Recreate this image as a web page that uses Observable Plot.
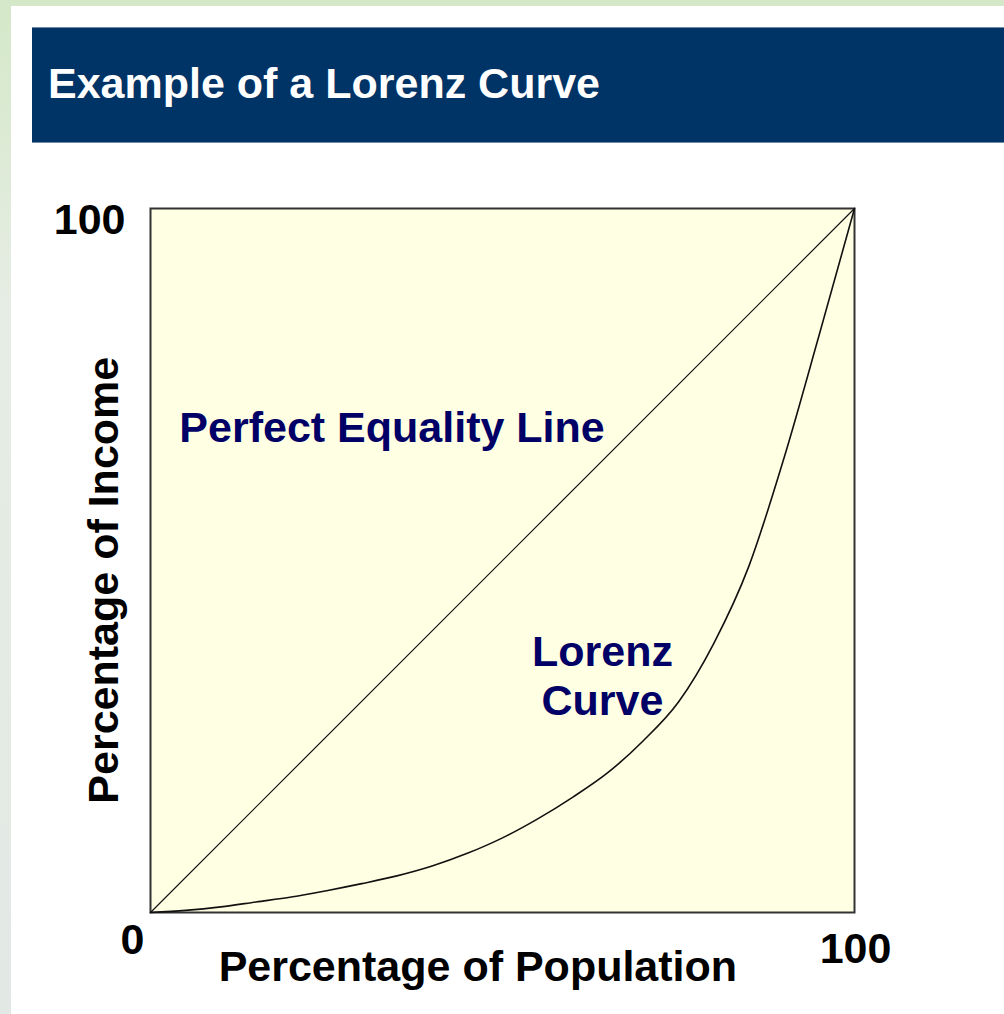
<!DOCTYPE html>
<html>
<head>
<meta charset="utf-8">
<script src="https://cdn.jsdelivr.net/npm/d3@7"></script>
<script src="https://cdn.jsdelivr.net/npm/@observablehq/plot@0.6"></script>
<style>
  html, body { margin: 0; padding: 0; width: 1004px; height: 1014px; overflow: hidden; }
  body { background: linear-gradient(180deg, #d4e8c8 0%, #e6ede4 30%, #e2e8e4 100%); position: relative; font-family: "Liberation Sans", Arial, sans-serif; }
  #panel { position: absolute; left: 11px; top: 6px; right: 0; bottom: 0; background: #ffffff; }
  #titlebar { position: absolute; left: 32px; top: 27px; width: 972px; height: 116px; background: #003366; border-top: 1px solid #6f8aa8; border-bottom: 1px solid #6f8aa8; box-sizing: border-box; }
  #titlebar span { position: absolute; left: 16px; top: 31px; color: #ffffff; font-weight: bold; font-size: 43px; line-height: 48px; white-space: nowrap; }
  #chart { position: absolute; left: 0; top: 143px; }
</style>
</head>
<body>
<div id="panel"></div>
<div id="titlebar"><span>Example of a Lorenz Curve</span></div>
<div id="chart"></div>
<script>
// Data
const population = [0, 5, 10, 15, 20, 25, 30, 35, 40, 45, 50, 55, 60, 65, 70, 75, 80, 85, 90, 95, 100];
const income     = [0, 0.3, 0.8, 1.5, 2.2, 3.1, 4.1, 5.2, 6.6, 8.4, 10.6, 13.3, 16.4, 19.9, 24.4, 29.9, 38.2, 49.2, 64.6, 82.1, 100];
const equalityX = [0, 100];
const equalityY = [0, 100];
const xTickLabels = ["0", "100"];
const xTickValues = [0, 100];
const yTickLabels = ["100"];
const yTickValues = [100];
const xLabel = "Percentage of Population";
const yLabel = "Percentage of Income";
const annotations = ["Perfect Equality Line", "Lorenz\nCurve"];
const annotationX = [4.1, 64.2];
const annotationY = [68.8, 33.8];

const lorenz = population.map((p, i) => ({x: p, y: income[i]}));
const equality = equalityX.map((p, i) => ({x: p, y: equalityY[i]}));
const xTicks = xTickValues.map((v, i) => ({v, label: xTickLabels[i]}));
const yTicks = yTickValues.map((v, i) => ({v, label: yTickLabels[i]}));
const notes = annotations.map((t, i) => ({t, x: annotationX[i], y: annotationY[i]}));

const font = "Liberation Sans, Arial, sans-serif";
const fs = 43;

const chart = Plot.plot({
  width: 1004,
  height: 871,
  marginLeft: 150,
  marginRight: 150,
  marginTop: 65,
  marginBottom: 102,
  x: {domain: [0, 100], axis: null},
  y: {domain: [0, 100], axis: null},
  style: {background: "transparent", fontFamily: font, overflow: "visible"},
  marks: [
    Plot.frame({fill: "#ffffe3", stroke: "#333333", strokeWidth: 2}),
    Plot.line(equality, {x: "x", y: "y", stroke: "#111", strokeWidth: 1.2}),
    Plot.line(lorenz, {x: "x", y: "y", stroke: "#111", strokeWidth: 1.6, curve: "monotone-x"}),
    Plot.text(notes.slice(0, 1), {x: "x", y: "y", text: "t", textAnchor: "start", fill: "#000066", fontSize: fs, fontWeight: "bold", fontFamily: font}),
    Plot.text(notes.slice(1), {x: "x", y: "y", text: "t", textAnchor: "middle", lineHeight: 1.15, fill: "#000066", fontSize: fs, fontWeight: "bold", fontFamily: font}),
    // x tick labels below the frame
    Plot.text(xTicks, {x: "v", y: () => 0, text: "label", fill: "#000", fontSize: fs, fontWeight: "bold", fontFamily: font,
      filter: (d) => d.v === 0, dx: -18, dy: 28}),
    Plot.text(xTicks, {x: "v", y: () => 0, text: "label", fill: "#000", fontSize: fs, fontWeight: "bold", fontFamily: font,
      filter: (d) => d.v === 100, dx: 1, dy: 37}),
    // y tick labels left of the frame
    Plot.text(yTicks, {x: () => 0, y: "v", text: "label", textAnchor: "end", dx: -25, dy: 12, fill: "#000", fontSize: fs, fontWeight: "bold", fontFamily: font}),
    // axis titles
    Plot.text([xLabel], {x: () => 46.5, y: () => 0, text: (d) => d, dy: 55, fill: "#000", fontSize: fs, fontWeight: "bold", fontFamily: font}),
    Plot.text([yLabel], {x: () => 0, y: () => 47.2, text: (d) => d, rotate: -90, dx: -46, fill: "#000", fontSize: fs, fontWeight: "bold", fontFamily: font})
  ]
});
document.getElementById("chart").appendChild(chart);
</script>
</body>
</html>
